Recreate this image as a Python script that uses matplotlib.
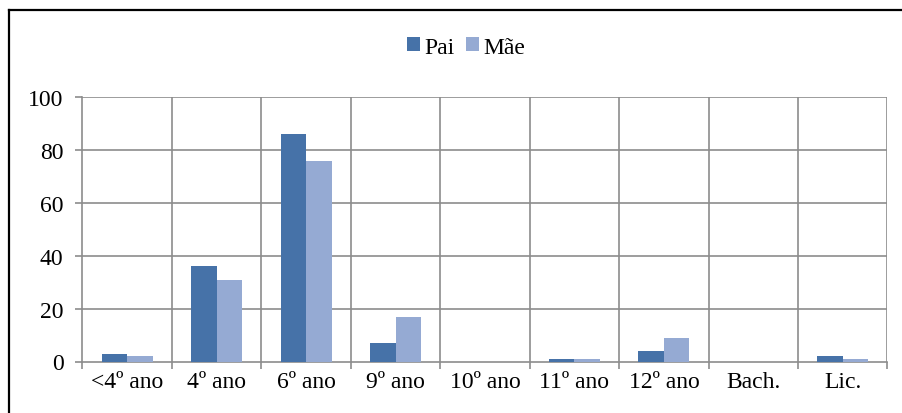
import numpy as np
import matplotlib.pyplot as plt
from matplotlib.lines import Line2D

categorias = ["<4º ano", "4º ano", "6º ano", "9º ano", "10º ano", "11º ano", "12º ano", "Bach.", "Lic."]
pai = [3, 36, 86, 7, 0, 1, 4, 0, 2]
mae = [2, 31, 76, 17, 0, 1, 9, 0, 1]

cor_pai = "#4672A8"
cor_mae = "#95AAD3"
cor_grelha = "#8C8C8C"

plt.rcParams['font.family'] = 'serif'
plt.rcParams['font.serif'] = ['Liberation Serif', 'DejaVu Serif']
plt.rcParams['font.size'] = 17

fig = plt.figure(figsize=(9.03, 4.14), dpi=100)
ax = fig.add_axes([82.5 / 903, 1 - 362.5 / 414, (887.5 - 82.5) / 903, (362.5 - 98.3) / 414])

x = np.arange(len(categorias))
w = 1 / 3.5
ax.bar(x - w / 2, pai, width=w, color=cor_pai, label="Pai", zorder=3)
ax.bar(x + w / 2, mae, width=w, color=cor_mae, label="Mãe", zorder=3)

ax.set_xlim(-0.5, len(categorias) - 0.5)
ax.set_ylim(0, 100)
ax.set_yticks(range(0, 101, 20))

# grelha horizontal e linhas verticais entre categorias
for v in range(20, 101, 20):
    ax.axhline(v, color=cor_grelha, lw=1.2, zorder=1)
for b in np.arange(0.5, len(categorias), 1):
    ax.axvline(b, color=cor_grelha, lw=1.2, zorder=1)

ax.set_xticks(x)
ax.set_xticklabels(categorias)
ax.set_xticks(np.arange(-0.5, len(categorias), 1), minor=True)
ax.tick_params(axis='x', which='major', length=0, pad=7)
ax.tick_params(axis='x', which='minor', length=4.7, color=cor_grelha, width=1.2)
ax.tick_params(axis='y', length=4.7, color=cor_grelha, width=1.2, pad=9)

for s in ["top", "right"]:
    ax.spines[s].set_visible(False)
for s in ["left", "bottom"]:
    ax.spines[s].set_color(cor_grelha)
    ax.spines[s].set_linewidth(1.2)

fig.legend(loc="center", bbox_to_anchor=(466 / 903, 1 - 48 / 414), ncol=2, frameon=False,
           handlelength=0.54, handleheight=0.54, handletextpad=0.18, columnspacing=0.5,
           borderpad=0, borderaxespad=0)

# moldura do gráfico (só se vêem os lados esquerdo e de cima)
fig.add_artist(Line2D([9 / 903, 9 / 903], [0, 1 - 11 / 414], transform=fig.transFigure, color="black", lw=1.6))
fig.add_artist(Line2D([9 / 903, 1.05], [1 - 11 / 414, 1 - 11 / 414], transform=fig.transFigure, color="black", lw=1.6,
                      clip_on=False))

fig.savefig("out.png", dpi=100)
